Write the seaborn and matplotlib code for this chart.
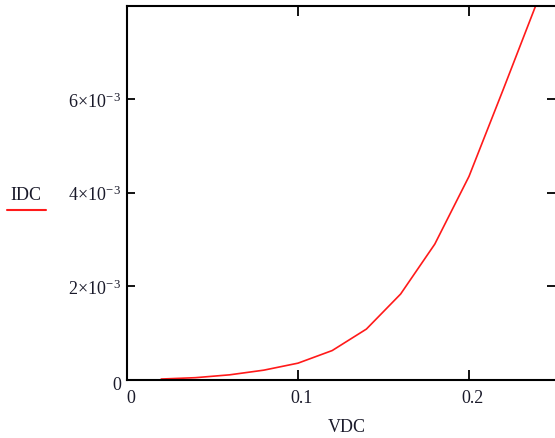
import matplotlib
matplotlib.use("Agg")
import matplotlib.pyplot as plt
from matplotlib.lines import Line2D
import matplotlib.transforms as mtransforms
import seaborn as sns
import pandas as pd

# Data
vdc = [0.02, 0.04, 0.06, 0.08, 0.10, 0.12, 0.14, 0.16, 0.18, 0.20, 0.22, 0.24]
idc = [1.0e-5, 3.9e-5, 1.0e-4, 2.0e-4, 3.5e-4, 6.2e-4, 1.08e-3, 1.83e-3,
       2.90e-3, 4.35e-3, 6.21e-3, 8.1e-3]
x_ticks = [0, 0.1, 0.2]
x_tick_labels = ["0", "0.1", "0.2"]
y_ticks = [0, 2e-3, 4e-3, 6e-3]
y_tick_labels = ["0", r"$2{\times}10^{-\,3}$", r"$4{\times}10^{-\,3}$", r"$6{\times}10^{-\,3}$"]

sns.set_theme(style="white")
plt.rcParams['font.family'] = ['Liberation Serif', 'DejaVu Serif']
plt.rcParams['mathtext.fontset'] = 'custom'
plt.rcParams['mathtext.rm'] = 'Liberation Serif'
plt.rcParams['mathtext.it'] = 'Liberation Serif:italic'

W, H = 555, 439
fig = plt.figure(figsize=(W / 100, H / 100), dpi=100)
ax = fig.add_axes([127 / W, 1 - 380.5 / H, (555 - 127) / W, (380.5 - 7) / H])

df = pd.DataFrame({"VDC": vdc, "IDC": idc})
sns.lineplot(data=df, x="VDC", y="IDC", ax=ax, color="#ff1a1a", linewidth=1.2, legend=False)

ax.set_xlim(0, 0.2503)
ax.set_ylim(0, 8e-3)
ax.set_xticks(x_ticks)
ax.set_xticklabels(x_tick_labels)
ax.set_yticks(y_ticks)
ax.set_yticklabels(y_tick_labels)
ax.set_xlabel("")
ax.set_ylabel("")

for s in ["left", "bottom", "top"]:
    ax.spines[s].set_visible(True)
    ax.spines[s].set_color("black")
    ax.spines[s].set_linewidth(1.5)
ax.spines["right"].set_visible(False)

ax.tick_params(axis="x", direction="in", length=7, width=1.3, colors="black",
               top=True, bottom=True, labelsize=13, pad=7, labelcolor="#1a1a2a")
ax.tick_params(axis="y", direction="in", length=6, width=1.3, colors="black",
               left=True, right=True, labelsize=13, pad=4, labelcolor="#1a1a2a")

shift = mtransforms.ScaledTranslation(4 / 100, 0, fig.dpi_scale_trans)
for lab in ax.get_xticklabels():
    lab.set_transform(lab.get_transform() + shift)
shift0 = mtransforms.ScaledTranslation(0, -3 / 100, fig.dpi_scale_trans)
for lab in ax.get_yticklabels():
    if lab.get_text() == "0":
        lab.set_transform(lab.get_transform() + shift0)

fig.text(347 / W, 1 - 428 / H, "VDC", ha="center", va="center", fontsize=13, color="#1a1a2a")
fig.text(26 / W, 1 - 196 / H, "IDC", ha="center", va="center", fontsize=13, color="#1a1a2a")
fig.add_artist(Line2D([7 / W, 46 / W], [1 - 211 / H, 1 - 211 / H], transform=fig.transFigure,
                      color="#ff1a1a", linewidth=1.5))

fig.savefig("out.png", dpi=100)
